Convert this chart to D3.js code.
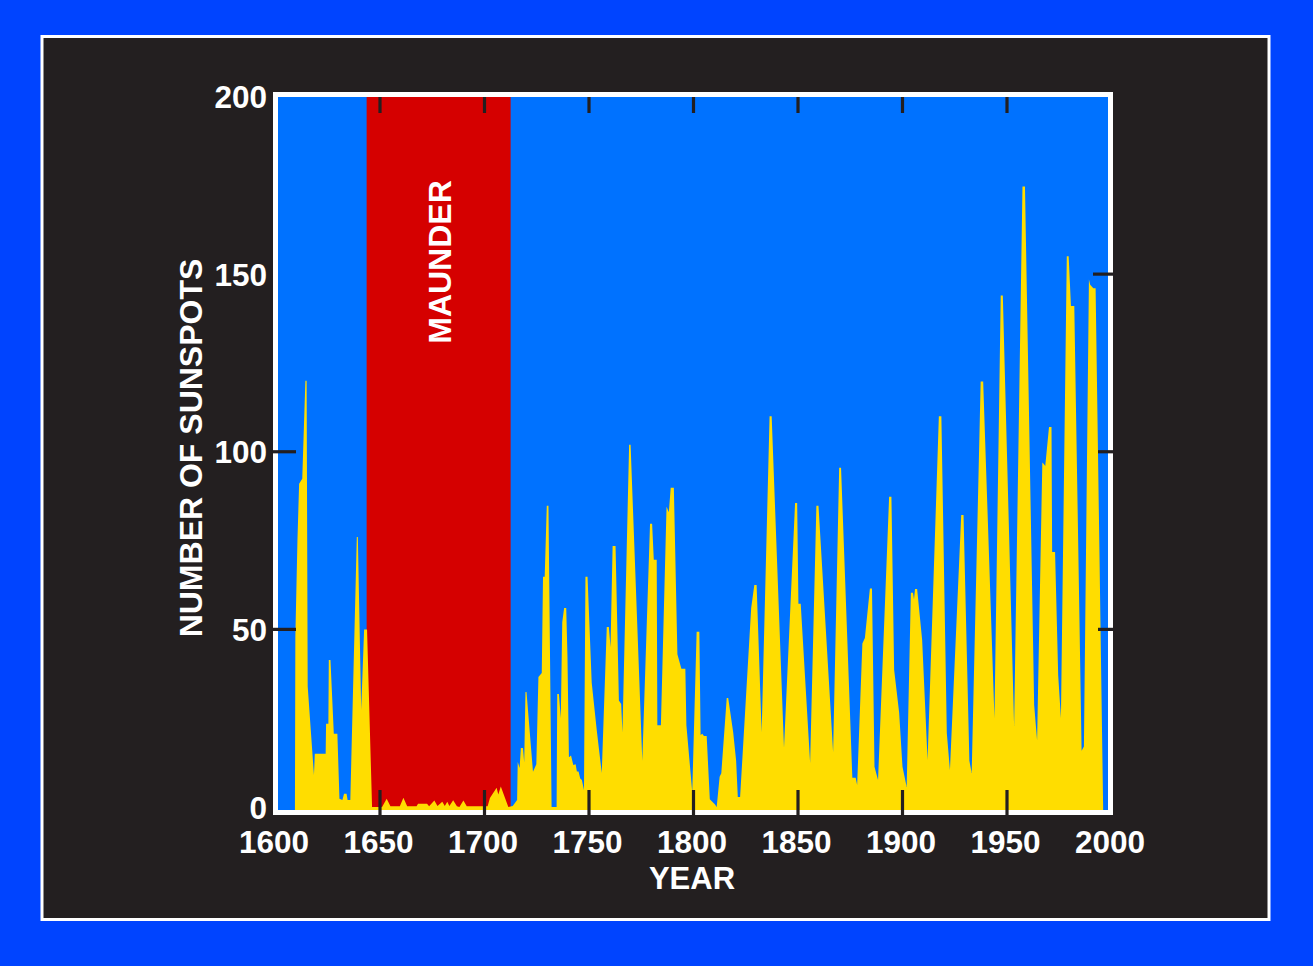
<!DOCTYPE html>
<html>
<head>
<meta charset="utf-8">
<script src="https://cdn.jsdelivr.net/npm/d3@7"></script>
<style>
html,body{margin:0;padding:0;background:#0044FF;}
svg{display:block;}
text{font-family:"Liberation Sans",Arial,Helvetica,sans-serif;font-weight:bold;fill:#fff;}
</style>
</head>
<body>
<svg id="chart" width="1313" height="966"></svg>
<script>
// ---- data ----
const years = [1609.3,1609.5,1610.5,1611.3,1612.8,1614.3,1614.9,1615.4,1618.4,1618.8,1624.0,1624.2,1625.3,1625.5,1626.3,1627.9,1629.6,1630.6,1632.0,1632.8,1634.0,1634.5,1635.8,1638.9,1639.4,1641.0,1642.4,1643.8,1646.2,
1651,1653.2,1655,1659.5,1661.2,1663,1667.5,1668.2,1672.5,1673.5,1676,1677.5,1679.8,1681,1682.2,1683.2,1685,1686.8,1688,1689.9,1691.5,1701.5,1702.6,1705.8,1706.6,1707.8,1711.4,1713.5,
1715.6,1715.9,1716.8,1717.4,1718.4,1719.0,1719.6,1720.1,1723.2,1724.8,1725.8,1727.4,1728.0,1728.8,1729.8,1730.6,1732.1,1734.5,1734.8,1735.6,1736.5,1737.2,1738.1,1739.1,1739.7,1740.4,1741.4,1742.5,1743.6,1744.2,1745.0,1745.8,1746.6,1747.6,1748.3,1749.3,
1751.3,1753.7,1756.1,1758.5,1759.5,1760.3,1761.3,1762.7,1764.3,1765.4,1766.0,1769.2,1769.9,1775.5,1779.2,1780.2,1781.0,1782.4,1782.7,1784.4,1787.1,1788.2,1789.1,1790.6,1792.3,1794.2,1796.1,1796.6,1799.4,
1801.5,1802.8,1803.4,1804.2,1805.0,1806.3,1807.8,1810.2,1811.1,1812.5,1813.3,1815.9,1816.6,1819.0,1820.4,1821.2,1822.3,1827.6,1829.1,1830.2,1832.6,1836.4,1837.4,1843.3,1848.6,1849.6,1850.2,1851.3,1855.8,1858.8,1859.8,1866.8,1869.7,1870.6,1876.0,1877.6,1878.3,1880.8,1882.0,1884.4,1885.4,1886.6,1888.3,1893.6,1894.7,1896.0,1898.4,
1900.0,1902.0,1904.0,1905.0,1905.5,1906.0,1907.0,1909.4,1912.0,1917.4,1918.6,1921.2,1922.7,1928.1,1929.2,1932.0,1933.1,1937.4,1938.6,1944.0,1947.0,1948.0,1953.4,1957.4,1958.6,1963.0,1964.4,1966.9,1967.7,1968.3,1970.1,1971.3,1971.6,1973.0,1974.5,1975.8,1978.6,1979.5,1980.6,1982.2,1985.7,1986.8,1989.2,1989.8,1991.3,1992.4,1996.0];
const sunspots = [0,48,75,91,92.4,120,120,34,9,15,15,23.4,23.4,41.4,41.4,20.6,20.6,2.3,2,3.7,3.7,2,2,76,76,27.3,50,50,0,
0,2.3,0.2,0.2,2.6,0.2,0.2,0.9,0.9,0.2,1.8,0.3,1.5,0.3,1.5,0.3,1.9,0.2,0,1.8,0.2,0.2,2.5,5.4,3.5,5.8,0,0.3,
2,12.7,11,16.6,16.6,12.5,32.4,32.4,9.9,12,36.6,37.7,64.8,64.8,84.8,84.8,0,0,31.8,31.8,25,52,56,56,42.3,14,14.5,11.8,12,10,10,8,7.6,4.8,64.8,64.8,
35,21.7,9.6,50.7,50.7,45,73.5,73.5,30,29,21,102,102,13,79.7,79.7,69.6,69.6,23,23,84.5,83,89.9,89.9,43,38.9,38.9,23,4.2,
49.3,49.3,20.3,20.6,20,20,2.2,0.8,0,8.5,9.5,30.7,30.7,21,13,2.8,2.8,56,62.5,62.5,21,110,110,16.6,85.6,85.6,57.2,57.2,12.4,84.8,84.8,15.5,95.5,95.5,8.2,8.2,6.2,46,47.6,61.5,61.5,11.3,7.6,87.3,87.3,38.6,26.5,
11.3,5.6,60.3,60.3,58.5,61.4,61.4,47,13.2,110,110,20.8,10.4,82.2,82.2,13,9.6,119.8,119.8,25,144,144,22.8,174.7,174.7,28.7,18.7,97,96.5,96,107,107,71.8,71.8,37,25,155,155,141,141,15.8,17,148.5,147,146,146,0];
const maunderSpan = [1643.6, 1712.5];
const xTicks = [1600,1650,1700,1750,1800,1850,1900,1950,2000];
const xInnerTicks = [1650,1700,1750,1800,1850,1900,1950];
const yTicks = [0,50,100,150,200];
const yLeftInnerTicks = [50,100];
const yRightInnerTicks = [50,100,150];

// ---- drawing ----
const svg = d3.select("#chart");
const x = d3.scaleLinear().domain([1600,2000]).range([275.5,1111.5]);
const y = d3.scaleLinear().domain([0,200]).range([807,96.5]);
const dark = "#231F20";

// outer blue & dark panel
svg.append("rect").attr("x",0).attr("y",0).attr("width",1313).attr("height",966).attr("fill","#0044FF");
svg.append("rect").attr("x",42).attr("y",36.5).attr("width",1227).attr("height",883)
  .attr("fill",dark).attr("stroke","#fff").attr("stroke-width",3);

// plot area
const inner = {x0:278, y0:97, x1:1108.5, y1:810};
svg.append("defs").append("clipPath").attr("id","clip").append("rect")
  .attr("x",inner.x0).attr("y",inner.y0).attr("width",inner.x1-inner.x0).attr("height",inner.y1-inner.y0);
svg.append("rect").attr("x",inner.x0).attr("y",inner.y0).attr("width",inner.x1-inner.x0).attr("height",inner.y1-inner.y0)
  .attr("fill","#0072FF");

const g = svg.append("g").attr("clip-path","url(#clip)");
g.append("rect").attr("x",x(maunderSpan[0])).attr("y",inner.y0)
  .attr("width",x(maunderSpan[1])-x(maunderSpan[0])).attr("height",inner.y1-inner.y0)
  .attr("fill","#D50000");

const data = years.map((yr,i)=>({yr, v:sunspots[i]}));
const area = d3.area().x(d=>x(d.yr)).y0(y(-1.2)).y1(d=>y(d.v)).curve(d3.curveLinear);
g.append("path").datum(data).attr("d",area).attr("fill","#FFDD00");

// frame
svg.append("rect").attr("x",275.5).attr("y",94.5).attr("width",835).attr("height",718)
  .attr("fill","none").attr("stroke","#fff").attr("stroke-width",5);

// ticks
const tk = svg.append("g").attr("stroke",dark).attr("stroke-width",3.2);
xInnerTicks.forEach(t=>{
  tk.append("line").attr("x1",x(t)).attr("x2",x(t)).attr("y1",97).attr("y2",113);
  tk.append("line").attr("x1",x(t)).attr("x2",x(t)).attr("y1",790).attr("y2",815);
});
yLeftInnerTicks.forEach(t=>{
  tk.append("line").attr("x1",270).attr("x2",296).attr("y1",y(t)).attr("y2",y(t));
});
yRightInnerTicks.forEach(t=>{
  tk.append("line").attr("x1",t===150?1093:1098).attr("x2",1114).attr("y1",y(t)).attr("y2",y(t));
});

// tick labels
xTicks.forEach(t=>{
  svg.append("text").attr("x",x(t)-1.5).attr("y",853).attr("text-anchor","middle")
    .attr("font-size",31.5).text(t);
});
yTicks.forEach(t=>{
  svg.append("text").attr("x",267).attr("y",y(t)+11.5).attr("text-anchor","end")
    .attr("font-size",31.5).text(t);
});

// titles
svg.append("text").attr("x",692).attr("y",889).attr("text-anchor","middle")
  .attr("font-size",31).text("YEAR");
svg.append("text").attr("transform","translate(202,448) rotate(-90)").attr("text-anchor","middle")
  .attr("font-size",32).text("NUMBER OF SUNSPOTS");
svg.append("text").attr("transform","translate(450.5,262) rotate(-90)").attr("text-anchor","middle")
  .attr("font-size",32).text("MAUNDER");
</script>
</body>
</html>
